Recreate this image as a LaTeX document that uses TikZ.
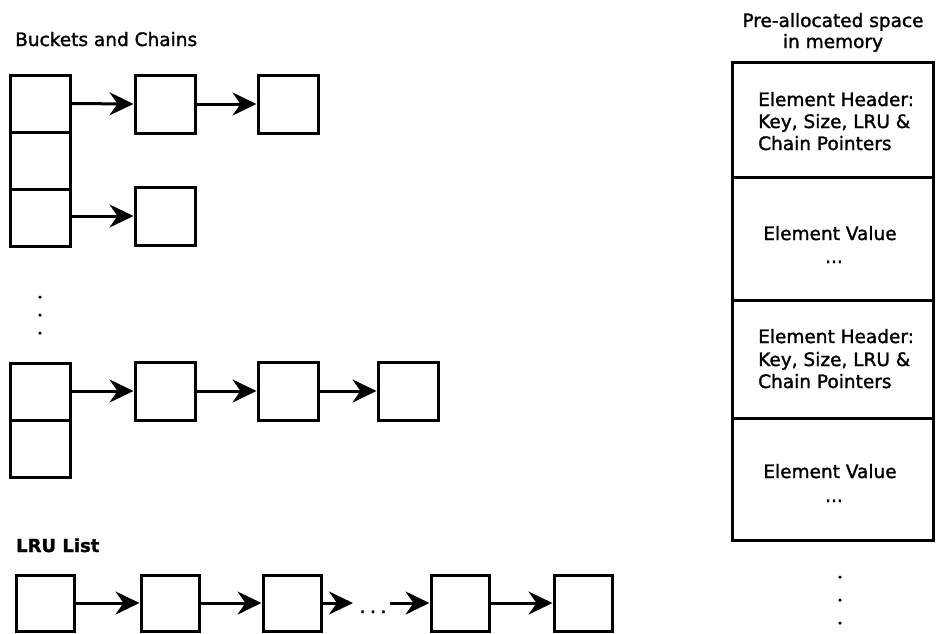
\documentclass[tikz,border=0pt]{standalone}
\usepackage{fontspec}
\setmainfont{DejaVu Sans}[FakeBold=1.5]
\usetikzlibrary{arrows.meta}
\begin{document}
\begin{tikzpicture}[x=1pt,y=-1pt,
  cell/.style={draw, line width=3pt, minimum width=60pt, minimum height=57pt, inner sep=0pt},
  lrucell/.style={draw, line width=3pt, minimum width=58pt, minimum height=56pt, inner sep=0pt},
  memblk/.style={draw, line width=3pt, minimum width=201pt, inner sep=0pt},
  link/.style={line width=3pt, -{Stealth[length=24pt,width=23pt,inset=8pt]}},
  lbl/.style={inner sep=0pt, font=\fontsize{18.5}{22}\selectfont},
  dot/.style={circle, fill=black, inner sep=0pt, minimum size=3.5pt}
]
\useasboundingbox (0,0) rectangle (936,633);

% ---------- Buckets and chains ----------
\node[lbl, anchor=base west] (tBuckets) at (15,46) {Buckets and Chains};

\node[cell] (b1) at (40,103.5) {};
\node[cell] (b2) at (40,160.5) {};
\node[cell] (b3) at (40,217.5) {};
\node[cell, minimum height=58pt] (c11) at (165,104) {};
\node[cell, minimum height=58pt] (c12) at (288,104) {};
\node[cell, minimum height=58pt] (c31) at (165,216) {};
\draw[link] (b1.east) -- (c11.west);
\draw[link] (c11.east) -- (c12.west);
\draw[link] (b3.east |- c31.west) -- (c31.west);

\node[dot] (d1) at (40,297) {};
\node[dot] (d2) at (40,315) {};
\node[dot] (d3) at (40,333) {};

\node[cell] (b4) at (40,391.5) {};
\node[cell] (b5) at (40,448.5) {};
\node[cell, minimum height=58pt] (c41) at (165,391) {};
\node[cell, minimum height=58pt] (c42) at (288,391) {};
\node[cell, minimum height=58pt] (c43) at (408,391) {};
\draw[link] (b4.east |- c41.west) -- (c41.west);
\draw[link] (c41.east) -- (c42.west);
\draw[link] (c42.east) -- (c43.west);

% ---------- LRU list ----------
\node[lbl, anchor=base west, font=\bfseries\fontsize{18}{20}\selectfont] (tLRU) at (16,552) {LRU List};

\node[lrucell] (l1) at (45,603) {};
\node[lrucell] (l2) at (170,603) {};
\node[lrucell] (l3) at (292,603) {};
\node[lrucell] (l4) at (460,603) {};
\node[lrucell] (l5) at (583,603) {};
\coordinate (gapA) at (353,603);
\coordinate (gapB) at (390,603);
\draw[link] (l1.east) -- (l2.west);
\draw[link] (l2.east) -- (l3.west);
\draw[link] (l3.east) -- (gapA);
\node[lbl, anchor=base, font=\fontsize{20}{22}\selectfont] (gapdots) at (373,613) {.\hspace{4pt}.\hspace{4pt}.};
\draw[link] (gapB) -- (l4.west);
\draw[link] (l4.east) -- (l5.west);

% ---------- Memory ----------
\node[lbl, anchor=base] (tMem1) at (833,27) {Pre-allocated space};
\node[lbl, anchor=base] (tMem2) at (833,48) {in memory};

\node[memblk, minimum height=115pt] (m1) at (832.5,119.5) {};
\node[memblk, minimum height=123pt] (m2) at (832.5,238.5) {};
\node[memblk, minimum height=118pt] (m3) at (832.5,359) {};
\node[memblk, minimum height=122pt] (m4) at (832.5,479) {};

\node[lbl, anchor=base west] (h1a) at (758,106) {Element Header:};
\node[lbl, anchor=base west] (h1b) at (758,128) {Key, Size, LRU \&};
\node[lbl, anchor=base west] (h1c) at (758,150) {Chain Pointers};
\node[lbl, anchor=base] (v1a) at (830,240) {Element Value};
\node[lbl, anchor=base] (v1b) at (834,263) {...};

\node[lbl, anchor=base west] (h2a) at (758,343) {Element Header:};
\node[lbl, anchor=base west] (h2b) at (758,366) {Key, Size, LRU \&};
\node[lbl, anchor=base west] (h2c) at (758,388) {Chain Pointers};
\node[lbl, anchor=base] (v2a) at (830,478) {Element Value};
\node[lbl, anchor=base] (v2b) at (834,502) {...};

\node[dot] (e1) at (840,577) {};
\node[dot] (e2) at (840,600) {};
\node[dot] (e3) at (840,623) {};
\end{tikzpicture}
\end{document}
